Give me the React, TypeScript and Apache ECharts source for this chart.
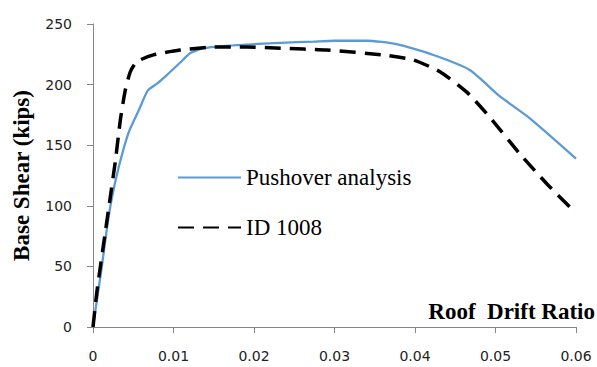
import React, { useEffect, useRef } from "react";
import * as echarts from "echarts";

const pushoverX = [0, 0.0003, 0.0011, 0.0017, 0.0023, 0.0032, 0.0044, 0.0057, 0.0068, 0.0080, 0.0092, 0.0108, 0.0121, 0.0137, 0.0165, 0.0191, 0.0233, 0.0274, 0.030, 0.034, 0.0377, 0.0423, 0.0468, 0.0506, 0.0543, 0.060];
const pushoverY = [0, 14, 50, 80, 105, 132, 160, 179, 195, 201, 208, 218, 226, 230, 232, 233, 234.5, 235.5, 236.2, 236.2, 233.4, 224.4, 212, 190, 172, 139];

const idX = [0, 0.0005, 0.0015, 0.0021, 0.0028, 0.0034, 0.0040, 0.0046, 0.0052, 0.0059, 0.0075, 0.0108, 0.015, 0.0191, 0.0233, 0.029, 0.0361, 0.0398, 0.0431, 0.0464, 0.0493, 0.053, 0.0564, 0.060];
const idY = [0, 30, 77, 105, 138, 171, 195, 210, 217, 220.5, 224.5, 228.5, 231, 231, 230, 228.5, 224.4, 220.4, 210.6, 194, 173, 143, 118, 94];

const seriesNames = ["Pushover analysis", "ID 1008"];
const xTicks = { min: 0, max: 0.06, interval: 0.01 };
const yTicks = { min: 0, max: 250, interval: 50 };

const zip = (xs: number[], ys: number[]) => xs.map((x, i) => [x, ys[i]]);

export default function App() {
  const ref = useRef<HTMLDivElement>(null);
  useEffect(() => {
    document.body.style.margin = "0";
    if (!ref.current) return;
    const chart = echarts.init(ref.current, null, { renderer: "svg" });
    const axisColor = "#868686";
    const tickFont = { fontFamily: "DejaVu Sans", fontSize: 14, color: "#222" };
    chart.setOption({
      animation: false,
      grid: { left: 93, right: 21, top: 24, bottom: 40, containLabel: false, outerBoundsMode: "none" },
      legend: {
        orient: "vertical",
        left: 177,
        top: 166,
        padding: 0,
        itemWidth: 63,
        itemHeight: 14,
        itemGap: 27,
        itemStyle: { opacity: 0 },
        textStyle: { fontFamily: "Liberation Serif", fontSize: 23, color: "#000" },
        data: seriesNames,
      },
      xAxis: {
        type: "value",
        min: xTicks.min,
        max: xTicks.max,
        interval: xTicks.interval,
        name: "Roof  Drift Ratio",
        nameLocation: "end",
        nameGap: 19,
        nameTextStyle: {
          fontFamily: "Liberation Serif",
          fontWeight: "bold",
          fontSize: 23,
          color: "#000",
          align: "right",
          verticalAlign: "bottom",
          padding: [0, 0, 4, 0],
        },
        axisLine: { show: true, lineStyle: { color: axisColor, width: 1 } },
        axisTick: { show: true, length: 6, lineStyle: { color: axisColor } },
        splitLine: { show: false },
        axisLabel: {
          ...tickFont,
          margin: 22,
          formatter: (v: number) => (v === 0 ? "0" : v.toFixed(2)),
        },
      },
      yAxis: {
        type: "value",
        min: yTicks.min,
        max: yTicks.max,
        interval: yTicks.interval,
        name: "Base Shear (kips)",
        nameLocation: "middle",
        nameGap: 60,
        nameTextStyle: {
          fontFamily: "Liberation Serif",
          fontWeight: "bold",
          fontSize: 23,
          color: "#000",
        },
        axisLine: { show: true, lineStyle: { color: axisColor, width: 1 } },
        axisTick: { show: true, length: 6, lineStyle: { color: axisColor } },
        splitLine: { show: false },
        axisLabel: { ...tickFont, margin: 21 },
      },
      series: [
        {
          name: seriesNames[0],
          type: "line",
          symbol: "none",
          smooth: 0.2,
          data: zip(pushoverX, pushoverY),
          lineStyle: { color: "#5B9BD5", width: 2.3 },
          itemStyle: { color: "#5B9BD5" },
        },
        {
          name: seriesNames[1],
          type: "line",
          symbol: "none",
          smooth: 0.2,
          data: zip(idX, idY),
          lineStyle: { color: "#000", width: 3.5, type: [16, 9] },
          itemStyle: { color: "#000" },
        },
      ],
    });
    return () => chart.dispose();
  }, []);
  return <div ref={ref} style={{ width: 597, height: 367 }} />;
}
